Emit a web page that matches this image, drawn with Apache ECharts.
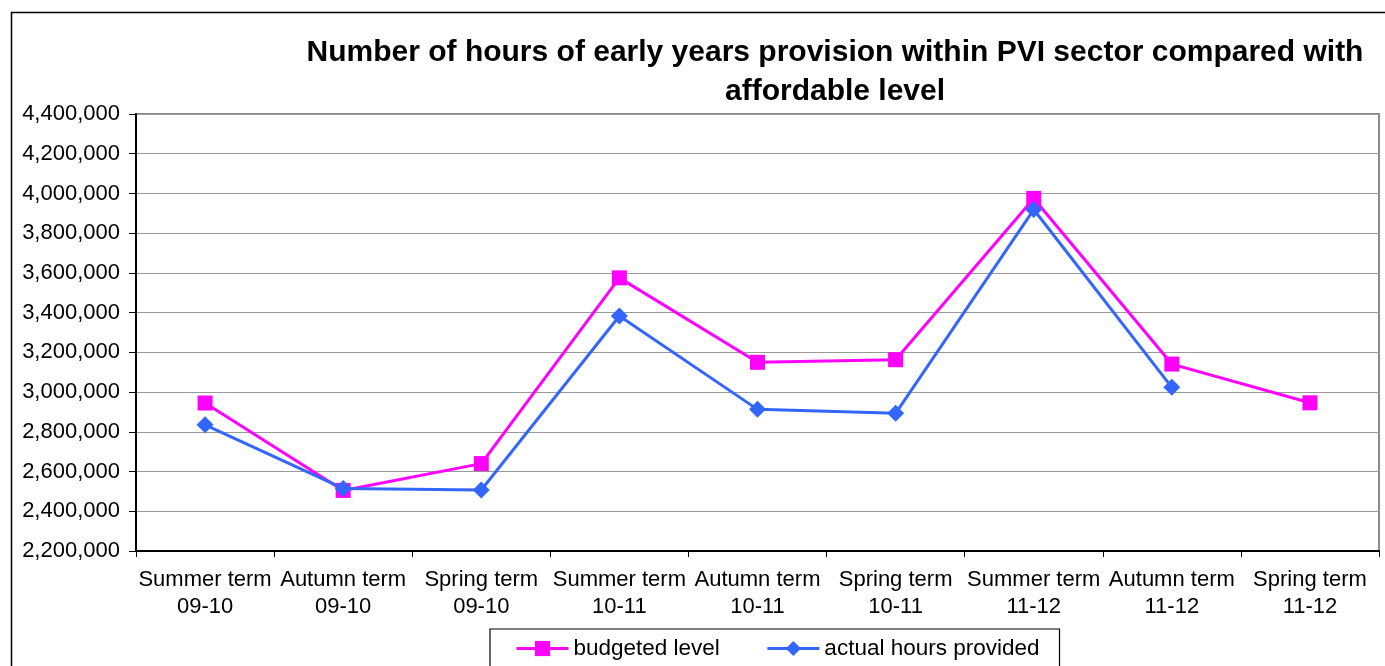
<!DOCTYPE html>
<html>
<head>
<meta charset="utf-8">
<script src="https://cdn.jsdelivr.net/npm/echarts@6/dist/echarts.min.js"></script>
<style>
  html, body { margin: 0; padding: 0; background: #fff; }
  #chart { width: 1385px; height: 666px; }
</style>
</head>
<body>
<div id="chart"></div>
<script>
// Terms along the x axis
const terms = [
  'Summer term\n09-10', 'Autumn term\n09-10', 'Spring term\n09-10',
  'Summer term\n10-11', 'Autumn term\n10-11', 'Spring term\n10-11',
  'Summer term\n11-12', 'Autumn term\n11-12', 'Spring term\n11-12'
];

// Hours per term
const budgetedLevel = [2945000, 2505000, 2640000, 3575000, 3150000, 3163000, 3975000, 3141000, 2946000];
const actualHours   = [2835000, 2515000, 2507000, 3383000, 2913000, 2893000, 3919000, 3024000, null];

// Value axis range
const yMin = 2200000;
const yMax = 4400000;
const yStep = 200000;

const fontFamily = '"Liberation Sans", Arial, sans-serif';
const chart = echarts.init(document.getElementById('chart'));

chart.setOption({
  backgroundColor: '#ffffff',
  animation: false,
  title: {
    text: 'Number of hours of early years provision within PVI sector compared with\naffordable level',
    left: 830,
    top: 28,
    textAlign: 'center',
    textStyle: {
      fontFamily: fontFamily,
      fontSize: 30,
      fontWeight: 'bold',
      color: '#000',
      lineHeight: 39,
      align: 'center'
    }
  },
  graphic: [{
    type: 'rect',
    shape: { x: 11.5, y: 12.5, width: 1400, height: 700 },
    style: { fill: null, stroke: '#000', lineWidth: 1.5 },
    silent: true,
    z: -1
  }],
  legend: {
    left: 490,
    top: 629,
    padding: [8, 20, 11, 25],
    itemGap: 46,
    itemWidth: 52,
    itemHeight: 19,
    borderColor: '#000',
    borderWidth: 1.2,
    lineStyle: { width: 3 },
    textStyle: { fontFamily: fontFamily, fontSize: 22.5, color: '#000' },
    data: ['budgeted level', 'actual hours provided']
  },
  grid: {
    left: 136,
    right: 6,
    top: 114,
    bottom: 115,
    show: true,
    borderColor: '#8c8c8c',
    borderWidth: 2
  },
  xAxis: {
    type: 'category',
    data: terms,
    boundaryGap: true,
    axisLine: { lineStyle: { color: '#000', width: 2 } },
    axisTick: { show: true, length: 6, lineStyle: { color: '#000', width: 1 } },
    axisLabel: {
      interval: 0,
      margin: 15,
      fontFamily: fontFamily,
      fontSize: 22,
      lineHeight: 27,
      color: '#000'
    },
    splitLine: { show: false }
  },
  yAxis: {
    type: 'value',
    min: yMin,
    max: yMax,
    interval: yStep,
    axisLine: { show: true, lineStyle: { color: '#000', width: 2 } },
    axisTick: { show: true, length: 7, lineStyle: { color: '#000', width: 1 } },
    axisLabel: {
      margin: 16,
      fontFamily: fontFamily,
      fontSize: 22,
      color: '#000',
      formatter: function (v) { return v.toLocaleString('en-US'); }
    },
    splitLine: { show: true, lineStyle: { color: '#999', width: 1.2 } }
  },
  series: [
    {
      name: 'budgeted level',
      type: 'line',
      data: budgetedLevel,
      symbol: 'rect',
      symbolSize: 15,
      connectNulls: false,
      lineStyle: { color: '#ff00ff', width: 3 },
      itemStyle: { color: '#ff00ff' },
      z: 2
    },
    {
      name: 'actual hours provided',
      type: 'line',
      data: actualHours,
      symbol: 'diamond',
      symbolSize: 17,
      connectNulls: false,
      lineStyle: { color: '#3366ff', width: 3 },
      itemStyle: { color: '#3366ff' },
      z: 3
    }
  ]
});
</script>
</body>
</html>
